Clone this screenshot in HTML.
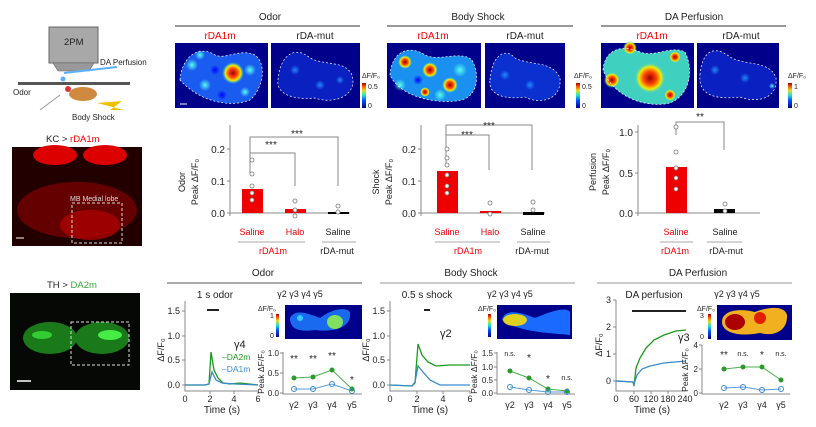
<!DOCTYPE html>
<html><head><meta charset="utf-8"><style>
body{margin:0;background:#fff}
svg{display:block;font-family:"Liberation Sans",sans-serif}
</style></head><body>
<svg width="816" height="427" viewBox="0 0 816 427" xmlns="http://www.w3.org/2000/svg">
<defs>
<linearGradient id="cb" x1="0" y1="1" x2="0" y2="0"><stop offset="0" stop-color="#00008b"/><stop offset=".3" stop-color="#0050ff"/><stop offset=".5" stop-color="#20e0d0"/><stop offset=".7" stop-color="#e0e020"/><stop offset=".85" stop-color="#ff6000"/><stop offset="1" stop-color="#a00000"/></linearGradient>
<radialGradient id="hot"><stop offset="0" stop-color="#900"/><stop offset=".4" stop-color="#f40"/><stop offset=".7" stop-color="#ee0"/><stop offset="1" stop-color="#2cf" stop-opacity="0"/></radialGradient>
<radialGradient id="cy"><stop offset="0" stop-color="#5fe"/><stop offset="1" stop-color="#5fe" stop-opacity="0"/></radialGradient>
<radialGradient id="bl"><stop offset="0" stop-color="#00f"/><stop offset="1" stop-color="#00f" stop-opacity="0"/></radialGradient>
<radialGradient id="lb"><stop offset="0" stop-color="#28f"/><stop offset="1" stop-color="#28f" stop-opacity="0"/></radialGradient>
</defs>
<g font-size="9" fill="#222">
<!-- schematic -->
<rect x="49" y="27" width="49" height="36" fill="#a8a8a8" stroke="#666"/>
<text x="64" y="45" font-size="9.5">2PM</text>
<polygon points="53,63 94,63 89,71 58,71" fill="#999" stroke="#666" stroke-width=".6"/>
<line x1="64" y1="73" x2="117" y2="67" stroke="#5ab0ff" stroke-width="2"/>
<text x="100" y="65" font-size="8">DA Perfusion</text>
<circle cx="63" cy="79" r="2.5" fill="#5ab0ff"/>
<rect x="18" y="82" width="112" height="3" fill="#555"/>
<text x="13" y="95" font-size="8">Odor</text>
<ellipse cx="83" cy="94" rx="14" ry="7" fill="#d08a40"/>
<circle cx="68" cy="89" r="3" fill="#d33"/>
<line x1="40" y1="110" x2="60" y2="95" stroke="#999"/>
<polygon points="97,103 122,101 110,110 124,110" fill="#f0c000"/>
<text x="72" y="120" font-size="8">Body Shock</text>
<text x="46" y="142" font-size="9.5">KC &gt; <tspan fill="#e00">rDA1m</tspan></text>
<rect x="12" y="147" width="130" height="99" fill="#200"/>
<ellipse cx="55" cy="155" rx="22" ry="10" fill="#d00"/><ellipse cx="105" cy="155" rx="22" ry="10" fill="#d00"/>
<ellipse cx="77" cy="210" rx="60" ry="28" fill="#700" opacity=".8"/>
<ellipse cx="90" cy="225" rx="30" ry="15" fill="#a00" opacity=".8"/>
<rect x="72" y="203" width="50" height="40" fill="none" stroke="#ddd" stroke-dasharray="3,2"/>
<text x="70" y="201" font-size="7" fill="#ddd">MB Medial lobe</text>
<line x1="16" y1="238" x2="24" y2="238" stroke="#fff"/>
<text x="47" y="288" font-size="9.5">TH &gt; <tspan fill="#3a3">DA2m</tspan></text>
<rect x="10" y="293" width="130" height="97" fill="#050805"/>
<ellipse cx="50" cy="338" rx="27" ry="16" fill="#1a7a1a"/><ellipse cx="102" cy="338" rx="27" ry="16" fill="#1a7a1a"/>
<ellipse cx="110" cy="335" rx="12" ry="5" fill="#4e4"/><ellipse cx="42" cy="335" rx="10" ry="4" fill="#3c3"/>
<rect x="71" y="322" width="58" height="43" fill="none" stroke="#ddd" stroke-dasharray="3,2"/>
<line x1="17" y1="381" x2="31" y2="381" stroke="#fff" stroke-width="1.5"/>

<!-- top headers -->
<g font-size="10" text-anchor="middle">
<text x="270" y="20">Odor</text><line x1="175" y1="26" x2="360" y2="26" stroke="#333"/>
<text x="478" y="20">Body Shock</text><line x1="387" y1="26" x2="573" y2="26" stroke="#333"/>
<text x="694" y="20">DA Perfusion</text><line x1="601" y1="26" x2="786" y2="26" stroke="#333"/>
<text x="220" y="39" fill="#e00">rDA1m</text><text x="315" y="39">rDA-mut</text>
<text x="433" y="39" fill="#e00">rDA1m</text><text x="525" y="39">rDA-mut</text>
<text x="652" y="39" fill="#e00">rDA1m</text><text x="741" y="39">rDA-mut</text>
</g>
<!-- heatmaps -->
<g>
<rect x="175" y="43" width="93" height="65" fill="#00008b"/>
<path d="M180,80 C182,55 200,45 215,55 C225,60 240,48 255,55 C268,65 262,90 250,100 C230,108 200,102 180,80Z" fill="#1a5cf0"/>
<circle cx="192" cy="65" r="6" fill="url(#cy)"/><circle cx="205" cy="85" r="6" fill="url(#cy)"/><circle cx="215" cy="70" r="5" fill="url(#bl)"/><circle cx="250" cy="70" r="6" fill="url(#cy)"/><circle cx="245" cy="92" r="5" fill="url(#cy)"/><circle cx="222" cy="95" r="5" fill="url(#bl)"/><circle cx="200" cy="55" r="5" fill="url(#cy)"/>
<circle cx="233" cy="73" r="11" fill="url(#hot)"/>
<path d="M180,80 C182,55 200,45 215,55 C225,60 240,48 255,55 C268,65 262,90 250,100 C230,108 200,102 180,80Z" fill="none" stroke="#fff" stroke-dasharray="2,2" stroke-width=".7"/>
<rect x="271" y="43" width="89" height="65" fill="#00008b"/>
<path d="M278,80 C280,55 295,45 310,58 C325,66 345,60 352,75 C358,95 335,105 315,98 C295,100 276,95 278,80Z" fill="#0a20c0"/>
<circle cx="295" cy="70" r="5" fill="url(#lb)"/><circle cx="320" cy="85" r="5" fill="url(#lb)"/><circle cx="340" cy="80" r="4" fill="url(#lb)"/>
<path d="M278,80 C280,55 295,45 310,58 C325,66 345,60 352,75 C358,95 335,105 315,98 C295,100 276,95 278,80Z" fill="none" stroke="#fff" stroke-dasharray="2,2" stroke-width=".7"/>
<rect x="362" y="83" width="4" height="25" fill="url(#cb)"/>
<text x="362" y="78" font-size="7">ΔF/F₀</text><text x="368" y="89" font-size="7">0.5</text><text x="368" y="108" font-size="7">0</text>

<rect x="387" y="43" width="94" height="65" fill="#00008b"/>
<path d="M390,75 C392,50 410,45 425,55 C440,62 460,50 472,60 C480,75 478,95 462,100 C440,105 400,98 390,75Z" fill="#1a90f0"/>
<circle cx="400" cy="85" r="6" fill="url(#cy)"/><circle cx="460" cy="70" r="7" fill="url(#cy)"/><circle cx="440" cy="95" r="6" fill="url(#cy)"/><circle cx="418" cy="80" r="5" fill="url(#bl)"/>
<circle cx="430" cy="70" r="8" fill="url(#hot)"/><circle cx="450" cy="85" r="8" fill="url(#hot)"/><circle cx="405" cy="62" r="7" fill="url(#hot)"/><circle cx="425" cy="92" r="5" fill="url(#hot)"/>
<path d="M390,75 C392,50 410,45 425,55 C440,62 460,50 472,60 C480,75 478,95 462,100 C440,105 400,98 390,75Z" fill="none" stroke="#fff" stroke-dasharray="2,2" stroke-width=".7"/>
<rect x="485" y="43" width="80" height="65" fill="#00008b"/>
<path d="M490,80 C492,55 505,47 515,58 C530,66 552,60 560,78 C562,100 540,105 525,97 C505,100 488,95 490,80Z" fill="#0a30d0"/>
<circle cx="505" cy="75" r="5" fill="url(#lb)"/><circle cx="530" cy="85" r="5" fill="url(#lb)"/>
<path d="M490,80 C492,55 505,47 515,58 C530,66 552,60 560,78 C562,100 540,105 525,97 C505,100 488,95 490,80Z" fill="none" stroke="#fff" stroke-dasharray="2,2" stroke-width=".7"/>
<rect x="576" y="83" width="4" height="25" fill="url(#cb)"/>
<text x="574" y="78" font-size="7">ΔF/F₀</text><text x="582" y="89" font-size="7">0.5</text><text x="582" y="108" font-size="7">0</text>

<rect x="601" y="43" width="93" height="65" fill="#00008b"/>
<path d="M603,70 C605,47 625,45 640,52 C655,58 670,45 685,52 C694,70 690,95 670,103 C650,108 615,100 603,70Z" fill="#40d0c0"/>
<circle cx="650" cy="78" r="16" fill="url(#hot)"/><circle cx="612" cy="80" r="8" fill="url(#hot)"/><circle cx="630" cy="48" r="7" fill="url(#hot)"/><circle cx="675" cy="57" r="6" fill="url(#hot)"/><circle cx="670" cy="95" r="6" fill="url(#hot)"/>
<path d="M603,70 C605,47 625,45 640,52 C655,58 670,45 685,52 C694,70 690,95 670,103 C650,108 615,100 603,70Z" fill="none" stroke="#fff" stroke-dasharray="2,2" stroke-width=".7"/>
<rect x="697" y="43" width="82" height="65" fill="#00008b"/>
<path d="M700,75 C702,50 715,45 730,57 C745,66 770,60 776,78 C778,100 755,103 740,97 C715,100 698,95 700,75Z" fill="#0a20c0"/>
<circle cx="715" cy="70" r="5" fill="url(#lb)"/><circle cx="745" cy="78" r="5" fill="url(#lb)"/><circle cx="772" cy="86" r="3" fill="url(#cy)"/>
<path d="M700,75 C702,50 715,45 730,57 C745,66 770,60 776,78 C778,100 755,103 740,97 C715,100 698,95 700,75Z" fill="none" stroke="#fff" stroke-dasharray="2,2" stroke-width=".7"/>
<rect x="788" y="83" width="4" height="25" fill="url(#cb)"/>
<text x="788" y="78" font-size="7">ΔF/F₀</text><text x="794" y="89" font-size="7">1</text><text x="794" y="108" font-size="7">0</text>
<line x1="180" y1="104" x2="187" y2="104" stroke="#fff"/>
</g>

<!-- bar charts -->
<g stroke="#888" fill="none">
<path d="M230,125 V216 M227,149 H230 M227,181 H230 M227,213 H230 M230,213 H350"/>
<path d="M421,125 V216 M418,149 H421 M418,181 H421 M418,213 H421 M421,213 H545"/>
<path d="M638,125 V216 M635,132 H638 M635,173 H638 M635,213 H638 M638,213 H760"/>
<path d="M250,173 V137 H338 V186 M250,153 H295 V186"/>
<path d="M446,165 V125 H532 V170 M446,135 H489 V170"/>
<path d="M676,135 V122 H724 V150"/>
</g>
<g font-size="10" text-anchor="end">
<text x="225" y="153">0.2</text><text x="225" y="185">0.1</text><text x="225" y="217">0.0</text>
<text x="416" y="153">0.2</text><text x="416" y="185">0.1</text><text x="416" y="217">0.0</text>
<text x="633" y="136">1.0</text><text x="633" y="177">0.5</text><text x="633" y="217">0.0</text>
</g>
<g font-size="9" text-anchor="middle">
<text transform="translate(185,182) rotate(-90)">Odor</text><text transform="translate(198,182) rotate(-90)">Peak ΔF/F₀</text>
<text transform="translate(379,182) rotate(-90)">Shock</text><text transform="translate(392,182) rotate(-90)">Peak ΔF/F₀</text>
<text transform="translate(596,172) rotate(-90)">Perfusion</text><text transform="translate(609,172) rotate(-90)">Peak ΔF/F₀</text>
<text x="297" y="137" font-size="10">***</text><text x="271" y="148" font-size="10">***</text>
<text x="489" y="129" font-size="10">***</text><text x="467" y="138" font-size="10">***</text>
<text x="700" y="120" font-size="10">**</text>
</g>
<rect x="242" y="189" width="21" height="24" fill="#e00"/>
<rect x="285" y="209" width="21" height="4" fill="#e00"/>
<rect x="328" y="212" width="21" height="2" fill="#000"/>
<rect x="437" y="171" width="21" height="42" fill="#e00"/>
<rect x="480" y="211" width="21" height="2" fill="#e00"/>
<rect x="523" y="212" width="21" height="3" fill="#000"/>
<rect x="666" y="167" width="21" height="46" fill="#e00"/>
<rect x="714" y="209" width="21" height="4" fill="#000"/>
<g fill="#fff" stroke="#777" stroke-width=".8">
<circle cx="252" cy="160" r="2"/><circle cx="252" cy="174" r="2"/><circle cx="252" cy="186" r="2"/><circle cx="252" cy="193" r="2"/><circle cx="252" cy="200" r="2"/>
<circle cx="295" cy="201" r="2"/><circle cx="295" cy="210" r="2"/><circle cx="295" cy="216" r="2"/>
<circle cx="338" cy="206" r="2"/><circle cx="338" cy="212" r="2"/>
<circle cx="447" cy="149" r="2"/><circle cx="447" cy="158" r="2"/><circle cx="447" cy="165" r="2"/><circle cx="447" cy="175" r="2"/><circle cx="447" cy="186" r="2"/><circle cx="447" cy="193" r="2"/>
<circle cx="490" cy="203" r="2"/><circle cx="490" cy="214" r="2"/>
<circle cx="533" cy="202" r="2"/><circle cx="533" cy="210" r="2"/>
<circle cx="676" cy="127" r="2"/><circle cx="676" cy="152" r="2"/><circle cx="676" cy="168" r="2"/><circle cx="676" cy="178" r="2"/><circle cx="676" cy="189" r="2"/>
<circle cx="725" cy="204" r="2"/><circle cx="725" cy="211" r="2"/>
</g>
<g font-size="9" text-anchor="middle">
<text x="252" y="235" fill="#e00">Saline</text><text x="295" y="235" fill="#e00">Halo</text><text x="338" y="235">Saline</text>
<text x="447" y="235" fill="#e00">Saline</text><text x="490" y="235" fill="#e00">Halo</text><text x="533" y="235">Saline</text>
<text x="676" y="235" fill="#e00">Saline</text><text x="725" y="235">Saline</text>
<text x="273" y="254" fill="#e00">rDA1m</text><text x="337" y="254">rDA-mut</text>
<text x="468" y="254" fill="#e00">rDA1m</text><text x="532" y="254">rDA-mut</text>
<text x="675" y="254" fill="#e00">rDA1m</text><text x="726" y="254">rDA-mut</text>
</g>
<g stroke="#aaa"><path d="M238,242 H305 M322,242 H356 M435,242 H500 M517,242 H550 M660,242 H693 M707,242 H742"/></g>

<!-- bottom headers -->
<g font-size="10" text-anchor="middle">
<text x="263" y="276">Odor</text><line x1="167" y1="283" x2="362" y2="283" stroke="#555"/>
<text x="471" y="276">Body Shock</text><line x1="380" y1="283" x2="575" y2="283" stroke="#999"/>
<text x="698" y="276">DA Perfusion</text><line x1="597" y1="283" x2="792" y2="283" stroke="#999"/>
<text x="215" y="298">1 s odor</text><text x="427" y="298">0.5 s shock</text><text x="654" y="298">DA perfusion</text>
</g>
<g font-size="9" text-anchor="middle">
<text x="300" y="297">γ2  γ3  γ4  γ5</text><text x="510" y="297">γ2  γ3  γ4  γ5</text><text x="737" y="297">γ2  γ3  γ4  γ5</text>
</g>
<!-- trace axes -->
<g stroke="#888" fill="none">
<path d="M185,301 V391 H258 M185,385 H182 M185,360 H182 M185,336 H182 M185,311 H182 M210,391 V394 M234,391 V394 M258,391 V394"/>
<path d="M390,301 V391 H470 M390,385 H387 M390,360 H387 M390,336 H387 M390,311 H387 M417,391 V394 M443,391 V394 M470,391 V394"/>
<path d="M616,300 V391 H686 M616,381 H613 M616,354 H613 M616,327 H613 M616,300 H613 M634,391 V394 M651,391 V394 M668,391 V394"/>
</g>
<g font-size="9" text-anchor="end">
<text x="180" y="388">0.0</text><text x="180" y="363">0.5</text><text x="180" y="339">1.0</text><text x="180" y="314">1.5</text>
<text x="385" y="388">0.0</text><text x="385" y="363">0.5</text><text x="385" y="339">1.0</text><text x="385" y="314">1.5</text>
<text x="611" y="384">0</text><text x="611" y="357">1</text><text x="611" y="330">2</text><text x="611" y="303">3</text>
</g>
<g font-size="9" text-anchor="middle">
<text x="185" y="402">0</text><text x="210" y="402">2</text><text x="234" y="402">4</text><text x="258" y="402">6</text>
<text x="390" y="402">0</text><text x="417" y="402">2</text><text x="443" y="402">4</text><text x="470" y="402">6</text>
<text x="616" y="402">0</text><text x="634" y="402">60</text><text x="651" y="402">120</text><text x="668" y="402">180</text><text x="685" y="402">240</text>
<text x="222" y="413" font-size="10">Time (s)</text><text x="430" y="413" font-size="10">Time (s)</text><text x="652" y="413" font-size="10">Time (s)</text>
<text transform="translate(164,350) rotate(-90)">ΔF/F₀</text><text transform="translate(369,350) rotate(-90)">ΔF/F₀</text><text transform="translate(602,345) rotate(-90)">ΔF/F₀</text>
</g>
<line x1="207" y1="310" x2="219" y2="310" stroke="#222" stroke-width="2"/>
<line x1="424" y1="310" x2="430" y2="310" stroke="#222" stroke-width="2"/>
<line x1="632" y1="311" x2="686" y2="311" stroke="#222" stroke-width="2"/>
<!-- traces -->
<g fill="none" stroke-width="1.3">
<path d="M185,385 L205,385 L209,384 L211,352 L214,370 L218,378 L223,383 L230,384 L240,383 L258,385" stroke="#1a9a1a"/>
<path d="M185,385 L205,385 L209,384 L212,372 L216,380 L222,383 L235,384 L258,385" stroke="#3a8ad0"/>
<path d="M390,385 L412,386 L415,383 L418,344 L422,355 L428,362 L436,366 L450,365 L470,365" stroke="#1a9a1a"/>
<path d="M390,385 L412,386 L415,382 L418,366 L423,372 L430,380 L440,385 L470,385" stroke="#3a8ad0"/>
<path d="M616,381 L633,382 L634,386 L636,368 L640,358 L646,348 L654,340 L664,335 L676,331 L686,330" stroke="#1a9a1a"/>
<path d="M616,381 L633,382 L634,384 L637,375 L642,369 L650,366 L664,363 L686,361" stroke="#3a8ad0"/>
</g>
<g font-size="8.5">
<text x="234" y="348" font-size="11">γ4</text>
<text x="222" y="360" fill="#1a9a1a">–DA2m</text><text x="222" y="372" fill="#3a8ad0">–DA1m</text>
<text x="440" y="337" font-size="11">γ2</text><text x="678" y="341" font-size="11">γ3</text>
</g>
<!-- insets -->
<rect x="285" y="305" width="77" height="34" fill="#00008b"/>
<path d="M290,318 C295,308 310,314 320,318 C330,310 345,306 350,312 C352,330 330,332 315,330 C300,332 290,330 290,318Z" fill="#1a6aef"/><ellipse cx="335" cy="322" rx="8" ry="7" fill="#80e060"/><circle cx="300" cy="318" r="3" fill="#3cf"/>
<rect x="276" y="314" width="3" height="23" fill="url(#cb)"/>
<text x="258" y="311" font-size="7">ΔF/F₀</text><text x="270" y="318" font-size="7">1</text><text x="270" y="338" font-size="7">0</text>
<rect x="497" y="305" width="75" height="34" fill="#00008b"/>
<path d="M502,320 C505,308 520,312 535,318 C550,312 565,306 570,312 L570,335 C555,333 520,333 502,320Z" fill="#1a6aff"/><ellipse cx="515" cy="320" rx="12" ry="6" fill="#e0d020"/>
<rect x="488" y="314" width="3" height="23" fill="url(#cb)"/>
<text x="478" y="311" font-size="7">ΔF/F₀</text>
<rect x="717" y="305" width="75" height="35" fill="#00008b"/>
<path d="M722,322 C722,310 740,308 755,312 C770,306 785,306 787,315 C788,330 775,337 760,333 C740,337 722,333 722,322Z" fill="#f0b020"/><ellipse cx="735" cy="322" rx="10" ry="8" fill="#a00"/><ellipse cx="760" cy="318" rx="6" ry="6" fill="#e02000"/>
<rect x="708" y="314" width="3" height="25" fill="url(#cb)"/>
<text x="697" y="311" font-size="7">ΔF/F₀</text><text x="700" y="318" font-size="7">3</text><text x="700" y="339" font-size="7">0</text>
<!-- peak plots -->
<g stroke="#888" fill="none">
<path d="M283,352 V394 H362 M283,393 H280 M283,373 H280 M283,353 H280"/>
<path d="M497,352 V394 H575 M497,393 H494 M497,380 H494 M497,367 H494 M497,353 H494"/>
<path d="M702,345 V394 H790 M702,393 H699 M702,369 H699 M702,345 H699"/>
</g>
<g font-size="8" text-anchor="end">
<text x="279" y="396">0.0</text><text x="279" y="376">0.5</text><text x="279" y="356">1.0</text>
<text x="493" y="396">0.0</text><text x="493" y="383">0.5</text><text x="493" y="370">1.0</text><text x="493" y="356">1.5</text>
<text x="698" y="396">0</text><text x="698" y="372">2</text><text x="698" y="348">4</text>
</g>
<g font-size="9" text-anchor="middle">
<text x="294" y="408">γ2</text><text x="313" y="408">γ3</text><text x="332" y="408">γ4</text><text x="352" y="408">γ5</text>
<text x="510" y="408">γ2</text><text x="529" y="408">γ3</text><text x="548" y="408">γ4</text><text x="567" y="408">γ5</text>
<text x="724" y="408">γ2</text><text x="743" y="408">γ3</text><text x="762" y="408">γ4</text><text x="781" y="408">γ5</text>
<text transform="translate(264,372) rotate(-90)" font-size="8.5">Peak ΔF/F₀</text>
<text transform="translate(477,372) rotate(-90)" font-size="8.5">Peak ΔF/F₀</text>
<text transform="translate(688,370) rotate(-90)" font-size="8.5">Peak ΔF/F₀</text>
<text x="294" y="362" font-size="10">**</text><text x="313" y="362" font-size="10">**</text><text x="332" y="359" font-size="10">**</text><text x="352" y="383" font-size="10">*</text>
<text x="510" y="356" font-size="7">n.s.</text><text x="529" y="361" font-size="10">*</text><text x="548" y="382" font-size="10">*</text><text x="567" y="380" font-size="7">n.s.</text>
<text x="724" y="358" font-size="10">**</text><text x="743" y="356" font-size="7">n.s.</text><text x="762" y="358" font-size="10">*</text><text x="781" y="356" font-size="7">n.s.</text>
</g>
<g fill="none" stroke-width="1">
<path d="M294,378 L313,377 L332,370 L352,389" stroke="#4ab04a"/>
<path d="M294,389 L313,389 L332,384 L352,391" stroke="#5a9ad8"/>
<path d="M510,371 L529,378 L548,389 L567,391" stroke="#4ab04a"/>
<path d="M510,387 L529,390 L548,392 L567,392" stroke="#5a9ad8"/>
<path d="M724,369 L743,367 L762,367 L781,380" stroke="#4ab04a"/>
<path d="M724,388 L743,387 L762,390 L781,389" stroke="#5a9ad8"/>
</g>
<g fill="#2a9a2a">
<circle cx="294" cy="378" r="2.5"/><circle cx="313" cy="377" r="2.5"/><circle cx="332" cy="370" r="2.5"/><circle cx="352" cy="389" r="2.5"/>
<circle cx="510" cy="371" r="2.5"/><circle cx="529" cy="378" r="2.5"/><circle cx="548" cy="389" r="2.5"/><circle cx="567" cy="391" r="2.5"/>
<circle cx="724" cy="369" r="2.5"/><circle cx="743" cy="367" r="2.5"/><circle cx="762" cy="367" r="2.5"/><circle cx="781" cy="380" r="2.5"/>
</g>
<g fill="none" stroke="#3a8ad0">
<circle cx="294" cy="389" r="2.5"/><circle cx="313" cy="389" r="2.5"/><circle cx="332" cy="384" r="2.5"/><circle cx="352" cy="391" r="2.5"/>
<circle cx="510" cy="387" r="2.5"/><circle cx="529" cy="390" r="2.5"/><circle cx="548" cy="392" r="2.5"/><circle cx="567" cy="392" r="2.5"/>
<circle cx="724" cy="388" r="2.5"/><circle cx="743" cy="387" r="2.5"/><circle cx="762" cy="390" r="2.5"/><circle cx="781" cy="389" r="2.5"/>
</g>
</g>
</svg>
</body></html>
